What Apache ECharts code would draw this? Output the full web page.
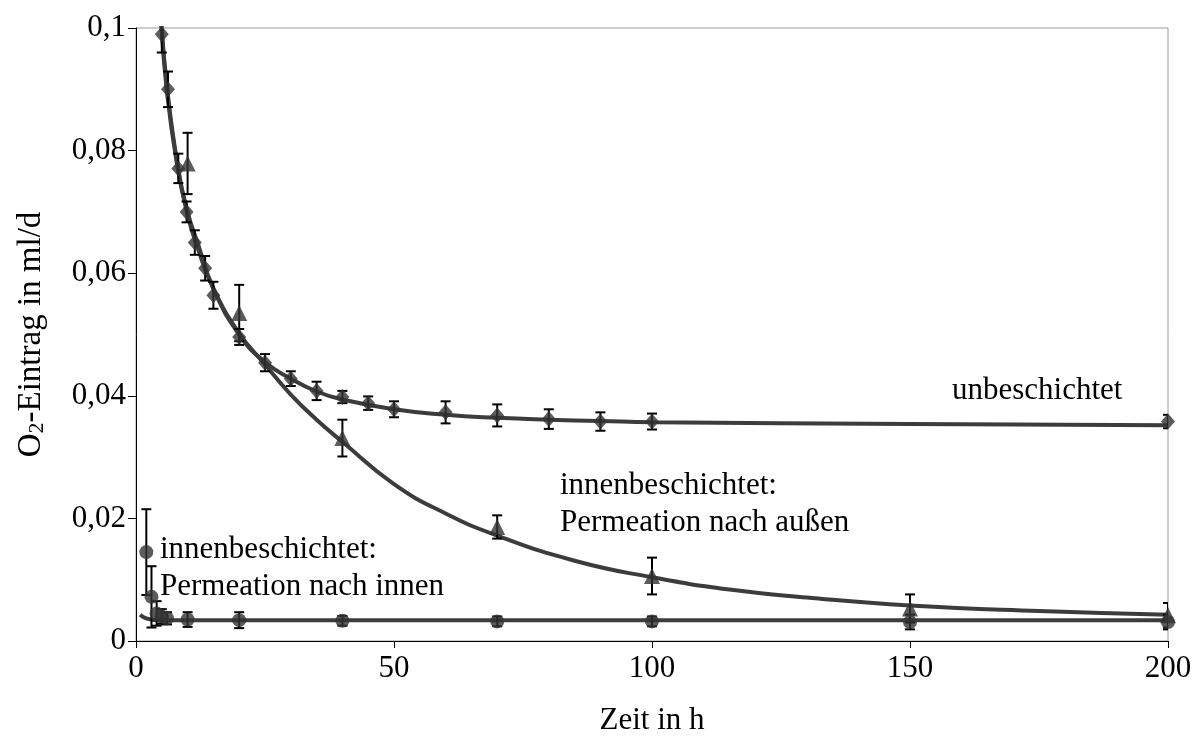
<!DOCTYPE html>
<html>
<head>
<meta charset="utf-8">
<script src="https://cdn.jsdelivr.net/npm/echarts@6/dist/echarts.min.js"></script>
<style>
html,body{margin:0;padding:0;background:#fff;}
#c{width:1199px;height:749px;}
</style>
</head>
<body>
<div id="c"></div>
<script>
// ---- Data ----
// unbeschichtet (diamonds)
const unbX   = [5, 6.2, 8.2, 9.8, 11.4, 13.4, 15, 20, 25, 30, 35, 40, 45, 50, 60, 70, 80, 90, 100, 200];
const unbY   = [0.099, 0.090, 0.0771, 0.070, 0.065, 0.0608, 0.0564, 0.0496, 0.0454, 0.0428, 0.0408, 0.0398, 0.0388, 0.0378, 0.0373, 0.0368, 0.0362, 0.0358, 0.0358, 0.0358];
const unbErr = [0.003, 0.0029, 0.0024, 0.0017, 0.002, 0.002, 0.0022, 0.0013, 0.0014, 0.0012, 0.0015, 0.001, 0.0011, 0.0013, 0.0018, 0.0018, 0.0016, 0.0015, 0.0013, 0.0011];
const unbFitX = [4.8, 6, 8, 10, 12, 15, 20, 25, 30, 35, 40, 50, 60, 70, 80, 90, 100, 150, 200];
const unbFitY = [0.102, 0.0905, 0.078, 0.070, 0.0648, 0.0575, 0.0500, 0.0455, 0.0428, 0.0407, 0.0394, 0.0378, 0.0369, 0.0364, 0.0361, 0.0359, 0.0357, 0.0354, 0.0352];

// innenbeschichtet: Permeation nach außen (triangles)
const ausX   = [10, 20, 40, 70, 100, 150, 200];
const ausY   = [0.0779, 0.0535, 0.0331, 0.0186, 0.0106, 0.0053, 0.0042];
const ausErr = [0.005, 0.0046, 0.003, 0.0019, 0.003, 0.0023, 0.002];
const ausFitX = [4.9, 6, 8, 10, 12, 15, 20, 25, 30, 35, 40, 50, 60, 70, 85, 100, 115, 130, 150, 175, 200];
const ausFitY = [0.101, 0.0895, 0.0775, 0.0695, 0.064, 0.0575, 0.0502, 0.0451, 0.0402, 0.0361, 0.0325, 0.0256, 0.0208, 0.0172, 0.0131, 0.0104, 0.0084, 0.0071, 0.0058, 0.0049, 0.0043];

// innenbeschichtet: Permeation nach innen (circles)
const innX   = [2, 3, 4, 5, 6, 10, 20, 40, 70, 100, 150, 200];
const innY   = [0.0145, 0.0072, 0.0045, 0.0040, 0.0037, 0.0035, 0.0034, 0.0033, 0.0032, 0.0032, 0.0031, 0.0031];
const innErr = [0.007, 0.005, 0.002, 0.0012, 0.001, 0.0012, 0.0013, 0.0008, 0.0008, 0.0008, 0.0012, 0.0012];
const innFitX = [0.8, 2, 4, 10, 50, 200];
const innFitY = [0.0043, 0.0037, 0.0034, 0.0034, 0.0034, 0.0034];

// axis ticks / texts
const xTicks = [0, 50, 100, 150, 200];
const yTicks = [0, 0.02, 0.04, 0.06, 0.08, 0.1];
const xTitle = 'Zeit in h';
const labelUnb = 'unbeschichtet';
const labelAus = 'innenbeschichtet:\nPermeation nach außen';
const labelInn = 'innenbeschichtet:\nPermeation nach innen';

// ---- Build ----
const FONT = '"Liberation Serif", "Times New Roman", serif';
const zip = (xs, ys) => xs.map((x, i) => [x, ys[i]]);
const zip3 = (xs, ys, es) => xs.map((x, i) => [x, ys[i], es[i]]);

function errRender(params, api) {
  const x = api.value(0), y = api.value(1), e = api.value(2);
  const t = api.coord([x, y + e]);
  const b = api.coord([x, y - e]);
  const w = 5;
  const st = { stroke: '#000', lineWidth: 2 };
  return {
    type: 'group',
    children: [
      { type: 'line', shape: { x1: t[0], y1: t[1], x2: b[0], y2: b[1] }, style: st },
      { type: 'line', shape: { x1: t[0] - w, y1: t[1], x2: t[0] + w, y2: t[1] }, style: st },
      { type: 'line', shape: { x1: b[0] - w, y1: b[1], x2: b[0] + w, y2: b[1] }, style: st }
    ]
  };
}

const LINE_COLOR = '#3c3c3c';
const MARK_COLOR = '#333333';

function fitSeries(xs, ys) {
  return {
    type: 'line', data: zip(xs, ys), smooth: 0.5,
    showSymbol: false, symbol: 'none', clip: true, z: 2,
    lineStyle: { color: LINE_COLOR, width: 4 }, silent: true
  };
}
function errSeries(xs, ys, es) {
  return {
    type: 'custom', data: zip3(xs, ys, es), renderItem: errRender,
    encode: { x: 0, y: 1 }, clip: true, z: 3, silent: true
  };
}
function ptSeries(xs, ys, sym, size) {
  return {
    type: 'scatter', data: zip(xs, ys), symbol: sym, symbolSize: size,
    itemStyle: { color: MARK_COLOR }, z: 4, clip: true, silent: true
  };
}

const chart = echarts.init(document.getElementById('c'), null, { renderer: 'canvas' });
chart.setOption({
  animation: false,
  backgroundColor: '#fff',
  grid: { left: 136, right: 31, top: 28, bottom: 108, show: true, borderColor: '#9a9a9a', borderWidth: 1, backgroundColor: 'transparent' },
  xAxis: {
    type: 'value', min: xTicks[0], max: xTicks[xTicks.length - 1], interval: 50,
    name: xTitle, nameLocation: 'middle', nameGap: 64,
    nameTextStyle: { fontFamily: FONT, fontSize: 31, color: '#000' },
    axisLine: { show: true, onZero: false, lineStyle: { color: '#000', width: 1 } },
    axisTick: { show: true, inside: false, length: 7, lineStyle: { color: '#000' } },
    axisLabel: { margin: 12, fontFamily: FONT, fontSize: 31, color: '#000' },
    splitLine: { show: false }
  },
  yAxis: {
    type: 'value', min: yTicks[0], max: yTicks[yTicks.length - 1], interval: 0.02,
    name: '{a|O}{s|2}{a|-Eintrag in ml/d}', nameLocation: 'middle', nameGap: 88, nameRotate: 90,
    nameTextStyle: {
      fontFamily: FONT, fontSize: 33, color: '#000',
      rich: {
        a: { fontFamily: FONT, fontSize: 33, color: '#000' },
        s: { fontFamily: FONT, fontSize: 22, color: '#000', verticalAlign: 'bottom' }
      }
    },
    axisLine: { show: true, onZero: false, lineStyle: { color: '#000', width: 1 } },
    axisTick: { show: true, inside: false, length: 8, lineStyle: { color: '#000' } },
    axisLabel: {
      margin: 10, fontFamily: FONT, fontSize: 31, color: '#000',
      formatter: v => String(+v.toFixed(2)).replace('.', ',')
    },
    splitLine: { show: false }
  },
  series: [
    fitSeries(innFitX, innFitY),
    fitSeries(ausFitX, ausFitY),
    fitSeries(unbFitX, unbFitY),
    errSeries(innX, innY, innErr),
    errSeries(ausX, ausY, ausErr),
    errSeries(unbX, unbY, unbErr),
    ptSeries(innX, innY, 'circle', 14),
    ptSeries(ausX, ausY, 'triangle', [16, 16]),
    ptSeries(unbX, unbY, 'diamond', [14, 16])
  ],
  graphic: [
    { type: 'text', left: 952, top: 372, z: 10, style: { text: labelUnb, font: '31px ' + FONT, fill: '#000', lineHeight: 37 } },
    { type: 'text', left: 560, top: 467, z: 10, style: { text: labelAus, font: '31px ' + FONT, fill: '#000', lineHeight: 37 } },
    { type: 'text', left: 160, top: 531, z: 10, style: { text: labelInn, font: '31px ' + FONT, fill: '#000', lineHeight: 37 } }
  ]
});
</script>
</body>
</html>
